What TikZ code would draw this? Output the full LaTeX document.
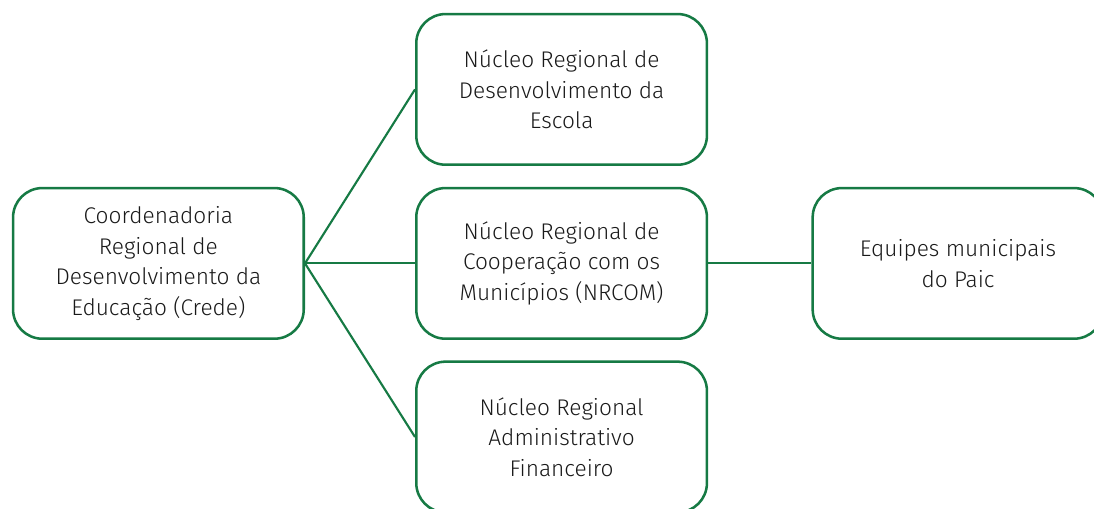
\documentclass[tikz,border=0pt]{standalone}
\usepackage{fontspec}
\setmainfont{Fira Sans}[UprightFont=* Light]
\definecolor{crgreen}{RGB}{22,122,68}

\begin{document}
\begin{tikzpicture}[x=30pt, y=30pt,
    unit/.style={draw=crgreen, line width=1.9pt, rounded corners=22pt,
      minimum width=218pt, minimum height=113pt, align=center,
      font=\fontsize{17}{23}\selectfont, text=black!90},
    link/.style={draw=crgreen, line width=1.6pt}]
  \useasboundingbox (0.0, 0.0) rectangle (27.35, 12.725);

  \node[unit] (crede) at ( 3.96,  6.14) {Coordenadoria\\Regional de\\Desenvolvimento da\\Educação (Crede)};
  \node[unit] (nrde)  at (14.04, 10.49) {Núcleo Regional de\\Desenvolvimento da\\Escola};
  \node[unit] (nrcom) at (14.04,  6.14) {Núcleo Regional de\\Cooperação com os\\Municípios (NRCOM)};
  \node[unit] (nraf)  at (14.04,  1.80) {Núcleo Regional\\Administrativo\\Financeiro};
  \node[unit] (paic)  at (23.95,  6.14) {Equipes municipais\\do Paic};

  \draw[link] (crede.east) -- (nrde.west);
  \draw[link] (crede.east) -- (nrcom.west);
  \draw[link] (crede.east) -- (nraf.west);
  \draw[link] (nrcom.east) -- (paic.west);
\end{tikzpicture}
\end{document}
